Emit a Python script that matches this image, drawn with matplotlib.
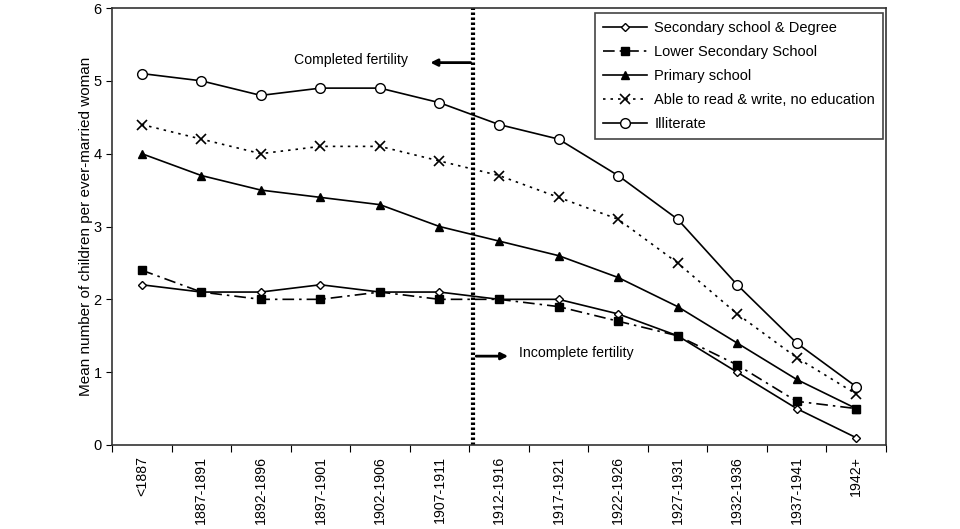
import matplotlib
matplotlib.use("Agg")
import matplotlib.pyplot as plt

plt.rcParams['font.family'] = ['Liberation Sans', 'DejaVu Sans']
plt.rcParams['font.size'] = 10

cohorts = ['<1887', '1887-1891', '1892-1896', '1897-1901', '1902-1906', '1907-1911',
           '1912-1916', '1917-1921', '1922-1926', '1927-1931', '1932-1936', '1937-1941', '1942+']

secondary = [2.2, 2.1, 2.1, 2.2, 2.1, 2.1, 2.0, 2.0, 1.8, 1.5, 1.0, 0.5, 0.1]
lower_secondary = [2.4, 2.1, 2.0, 2.0, 2.1, 2.0, 2.0, 1.9, 1.7, 1.5, 1.1, 0.6, 0.5]
primary = [4.0, 3.7, 3.5, 3.4, 3.3, 3.0, 2.8, 2.6, 2.3, 1.9, 1.4, 0.9, 0.5]
read_write = [4.4, 4.2, 4.0, 4.1, 4.1, 3.9, 3.7, 3.4, 3.1, 2.5, 1.8, 1.2, 0.7]
illiterate = [5.1, 5.0, 4.8, 4.9, 4.9, 4.7, 4.4, 4.2, 3.7, 3.1, 2.2, 1.4, 0.8]

fig = plt.figure(figsize=(9.6, 5.29), dpi=100)
ax = fig.add_axes([112/960, 1 - 445/529, (886-112)/960, (445-8)/529])

x = range(len(cohorts))
ax.plot(x, secondary, color='black', lw=1.2, marker='D', ms=4.5, mfc='white', mec='black',
        label='Secondary school & Degree')
ax.plot(x, lower_secondary, color='black', lw=1.2, ls=(0, (7, 3, 1.5, 3)), marker='s', ms=6,
        mfc='black', label='Lower Secondary School')
ax.plot(x, primary, color='black', lw=1.2, marker='^', ms=6, mfc='black', label='Primary school')
ax.plot(x, read_write, color='black', lw=1.2, ls=(0, (1.5, 3)), marker='x', ms=7, mew=1.2,
        label='Able to read & write, no education')
ax.plot(x, illiterate, color='black', lw=1.2, marker='o', ms=7, mfc='white', mec='black',
        label='Illiterate')

# boundary between completed and incomplete fertility
ax.axvline(5.57, color='black', lw=3, ls=(0, (0.6, 0.6)))
ax.annotate('', xy=(4.8, 5.25), xytext=(5.57, 5.25),
            arrowprops=dict(arrowstyle='-|>', color='black', lw=2, mutation_scale=10))
ax.text(4.47, 5.28, 'Completed fertility', ha='right', va='center', fontsize=10.2)
ax.annotate('', xy=(6.2, 1.22), xytext=(5.57, 1.22),
            arrowprops=dict(arrowstyle='-|>', color='black', lw=2, mutation_scale=10))
ax.text(6.33, 1.26, 'Incomplete fertility', ha='left', va='center', fontsize=10.2)

ax.set_xlim(-0.5, 12.5)
ax.set_ylim(0, 6)
ax.set_yticks(range(7))
ax.set_xticks([i - 0.5 for i in range(14)], minor=False)
ax.set_xticklabels([])
ax.set_xticks(list(x), minor=True)
ax.set_xticklabels(cohorts, minor=True, rotation=90, fontsize=10.2)
ax.tick_params(axis='x', which='minor', length=0, pad=8)
ax.tick_params(axis='x', which='major', length=5, direction='out')
ax.tick_params(axis='y', length=4, direction='out', labelsize=10.5)
ax.set_ylabel('Mean number of children per ever-married woman', fontsize=11, labelpad=0)

for s in ax.spines.values():
    s.set_color('#333333')
    s.set_linewidth(1.2)

leg = ax.legend(loc='upper right', bbox_to_anchor=(883/960, 1 - 13/529), bbox_transform=fig.transFigure,
                fancybox=False, framealpha=1, edgecolor='#444444', fontsize=10.5,
                handlelength=3, handletextpad=0.5, borderpad=0.55, labelspacing=0.68,
                borderaxespad=0)
leg.get_frame().set_linewidth(1.2)

fig.savefig('out.png', dpi=100)
